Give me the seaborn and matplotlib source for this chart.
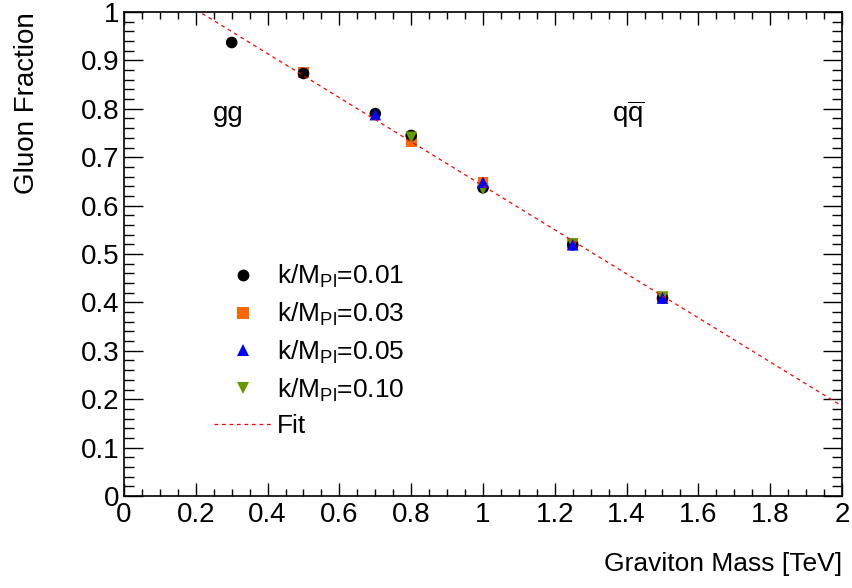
import matplotlib
matplotlib.use("Agg")
import matplotlib.pyplot as plt
import seaborn as sns
import pandas as pd
from matplotlib.lines import Line2D
from matplotlib.ticker import MultipleLocator, FuncFormatter

# ---- data ----
x_k001 = [0.3, 0.5, 0.7, 0.8, 1.0, 1.25, 1.5]
y_k001 = [0.937, 0.873, 0.790, 0.745, 0.637, 0.519, 0.409]
x_k003 = [0.5, 0.8, 1.0, 1.25, 1.5]
y_k003 = [0.875, 0.732, 0.647, 0.520, 0.410]
x_k005 = [0.7, 1.0, 1.25, 1.5]
y_k005 = [0.788, 0.648, 0.519, 0.409]
x_k010 = [0.8, 1.0, 1.25, 1.5]
y_k010 = [0.741, 0.634, 0.521, 0.411]
fit_x = [0.2, 2.0]
fit_y = [1.005, 0.186]

labels = [r"k/M$_{\mathrm{Pl}}$=0.01", r"k/M$_{\mathrm{Pl}}$=0.03",
          r"k/M$_{\mathrm{Pl}}$=0.05", r"k/M$_{\mathrm{Pl}}$=0.10"]
colors = ["#000000", "#ff6600", "#0000ff", "#669900"]
markers = ["o", "s", "^", "v"]

sns.set_theme(style="white")
plt.rcParams["font.family"] = ["Liberation Sans", "DejaVu Sans"]
plt.rcParams["mathtext.fontset"] = "custom"
plt.rcParams["mathtext.rm"] = "Liberation Sans"
plt.rcParams["mathtext.it"] = "Liberation Sans"
plt.rcParams["mathtext.default"] = "regular"
for k in ["text.color", "axes.labelcolor", "xtick.color", "ytick.color", "axes.edgecolor"]:
    plt.rcParams[k] = "black"

fig = plt.figure(figsize=(8.53, 5.88), dpi=100)
ax = fig.add_axes([124/853, 1-496/588, (842-124)/853, (496-12)/588])

series = {0: (x_k001, y_k001), 1: (x_k003, y_k003), 2: (x_k005, y_k005), 3: (x_k010, y_k010)}
sizes = [70, 60, 70, 70]
# draw order: orange, black, green, blue
for z, i in enumerate([1, 0, 3, 2]):
    xs, ys = series[i]
    df = pd.DataFrame({"x": xs, "y": ys})
    sns.scatterplot(data=df, x="x", y="y", ax=ax, marker=markers[i], color=colors[i],
                    s=sizes[i], edgecolor="none", linewidth=0, zorder=3 + z * 0.1)

fit_df = pd.DataFrame({"x": fit_x, "y": fit_y})
sns.lineplot(data=fit_df, x="x", y="y", ax=ax, color="red", linewidth=0.9,
             linestyle=(0, (3.0, 3.0)), zorder=5)

ax.set_xlim(0, 2)
ax.set_ylim(0, 1)
ax.xaxis.set_major_locator(MultipleLocator(0.2))
ax.xaxis.set_minor_locator(MultipleLocator(0.05))
ax.yaxis.set_major_locator(MultipleLocator(0.1))
ax.yaxis.set_minor_locator(MultipleLocator(0.02))
ax.xaxis.set_major_formatter(FuncFormatter(lambda v, p: f"{v:g}"))
ax.yaxis.set_major_formatter(FuncFormatter(lambda v, p: f"{v:g}"))

ax.tick_params(axis="x", which="major", direction="in", length=9.5, width=1.0,
               top=True, bottom=True, labelsize=20, pad=4)
ax.tick_params(axis="x", which="minor", direction="in", length=4.8, width=1.0,
               top=True, bottom=True)
ax.tick_params(axis="y", which="major", direction="in", length=14, width=1.0,
               left=True, right=True, labelsize=20, pad=3)
ax.tick_params(axis="y", which="minor", direction="in", length=7, width=1.0,
               left=True, right=True)
for s in ax.spines.values():
    s.set_color("black")
    s.set_linewidth(1.2)

ax.set_xlabel("Graviton Mass [TeV]", fontsize=19, loc="right")
ax.xaxis.set_label_coords(1.0, -0.115)
ax.set_ylabel("Gluon Fraction", fontsize=20, loc="top")
ax.yaxis.set_label_coords(-0.117, 1.0)

ax.text(0.29, 0.79, "gg", fontsize=20, ha="center", va="center")
ax.text(1.405, 0.79, r"q$\overline{\mathrm{q}}$", fontsize=20, ha="center", va="center")

handles = [Line2D([], [], linestyle="none", marker=markers[i], color=colors[i],
                  markersize=8.5 if i != 1 else 8, markeredgewidth=0) for i in range(4)]
handles.append(Line2D([], [], color="red", linewidth=0.9, linestyle=(0, (3.0, 3.0))))
leg = ax.legend(handles, labels + ["Fit"], loc="upper left", bbox_to_anchor=(0.11, 0.503),
                frameon=False, fontsize=19, labelspacing=0.40, handlelength=2.2,
                handletextpad=0.2, borderaxespad=0)

fig.savefig("out.png", dpi=100, facecolor="white")
